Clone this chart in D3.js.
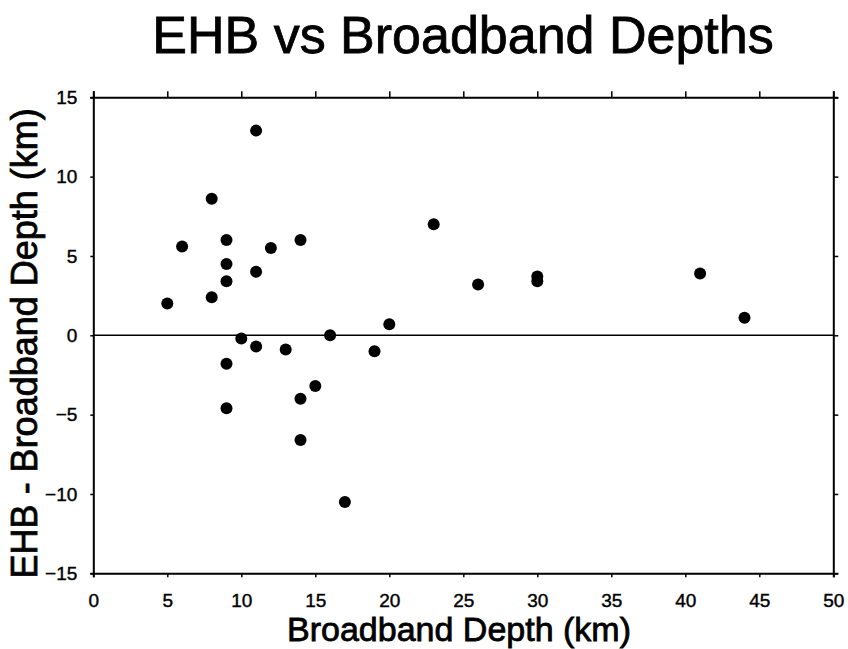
<!DOCTYPE html>
<html>
<head>
<meta charset="utf-8">
<script src="https://cdn.jsdelivr.net/npm/d3@7"></script>
<style>
  html, body { margin: 0; padding: 0; background: #fff; }
  svg { display: block; font-family: "Liberation Sans", Arial, Helvetica, sans-serif; }
</style>
</head>
<body>
<svg id="chart" width="848" height="649"></svg>
<script>
// Broadband depth (km) of each event
const depth = [5, 6, 8, 8, 9, 9, 9, 9, 9, 10, 11, 11, 11, 12, 13, 14, 14, 14, 15, 16, 17, 19, 20, 23, 26, 30, 30, 41, 44];
// EHB depth minus broadband depth (km)
const diff = [2.0, 5.6, 8.6, 2.4, 6.0, 4.5, 3.4, -1.8, -4.6, -0.2, 12.9, 4.0, -0.7, 5.5, -0.9, 6.0, -4.0, -6.6, -3.2, 0.0, -10.5, -1.0, 0.7, 7.0, 3.2, 3.7, 3.4, 3.9, 1.1];

const xTicks = [0, 5, 10, 15, 20, 25, 30, 35, 40, 45, 50];
const yTicks = [-15, -10, -5, 0, 5, 10, 15];

const titleText = "EHB vs Broadband Depths";
const xLabel = "Broadband Depth (km)";
const yLabel = "EHB - Broadband Depth (km)";

const svg = d3.select("#chart");
const plotLeft = 93.3, plotRight = 833.3, plotTop = 97.3, plotBottom = 573.3;

const x = d3.scaleLinear().domain([0, 50]).range([plotLeft, plotRight]);
const y = d3.scaleLinear().domain([-15, 15]).range([plotBottom, plotTop]);

// Frame axes with short outward ticks
svg.append("g").attr("transform", `translate(0,${plotBottom})`)
  .call(d3.axisBottom(x).tickValues(xTicks).tickSize(4).tickPadding(16).tickFormat(d3.format("d")));
svg.append("g").attr("transform", `translate(0,${plotTop})`)
  .call(d3.axisTop(x).tickValues(xTicks).tickSize(6).tickFormat(""));
svg.append("g").attr("transform", `translate(${plotLeft},0)`)
  .call(d3.axisLeft(y).tickValues(yTicks).tickSize(3).tickPadding(13).tickFormat(d3.format("d")));
svg.append("g").attr("transform", `translate(${plotRight},0)`)
  .call(d3.axisRight(y).tickValues(yTicks).tickSize(5).tickFormat(""));

svg.selectAll(".domain").attr("stroke", "#000").attr("stroke-width", 2);
svg.selectAll(".tick line").attr("stroke", "#000").attr("stroke-width", 1.5);
svg.selectAll(".tick text")
  .attr("fill", "#000")
  .attr("stroke", "#000").attr("stroke-width", 0.4)
  .style("font-size", "19px");

// Zero reference line
svg.append("line")
  .attr("x1", x(0)).attr("x2", x(50))
  .attr("y1", y(0)).attr("y2", y(0))
  .attr("stroke", "#000").attr("stroke-width", 1.6);

// Events
svg.append("g").selectAll("circle")
  .data(depth.map((d, i) => ({ d, v: diff[i] })))
  .join("circle")
  .attr("cx", p => x(p.d))
  .attr("cy", p => y(p.v))
  .attr("r", 6)
  .attr("fill", "#000");

// Titles (slight stroke gives the heavier print weight)
const heading = (sel) => sel.attr("fill", "#000").attr("stroke", "#000").attr("stroke-width", 0.8);

svg.append("text")
  .attr("x", 463).attr("y", 53)
  .attr("text-anchor", "middle")
  .style("font-size", "52px")
  .call(heading)
  .text(titleText);

svg.append("text")
  .attr("x", 459).attr("y", 641)
  .attr("text-anchor", "middle")
  .style("font-size", "34px")
  .call(heading)
  .text(xLabel);

svg.append("text")
  .attr("transform", `translate(37,${(plotTop + plotBottom) / 2 + 8}) rotate(-90)`)
  .attr("text-anchor", "middle")
  .style("font-size", "36px")
  .call(heading)
  .text(yLabel);
</script>
</body>
</html>
